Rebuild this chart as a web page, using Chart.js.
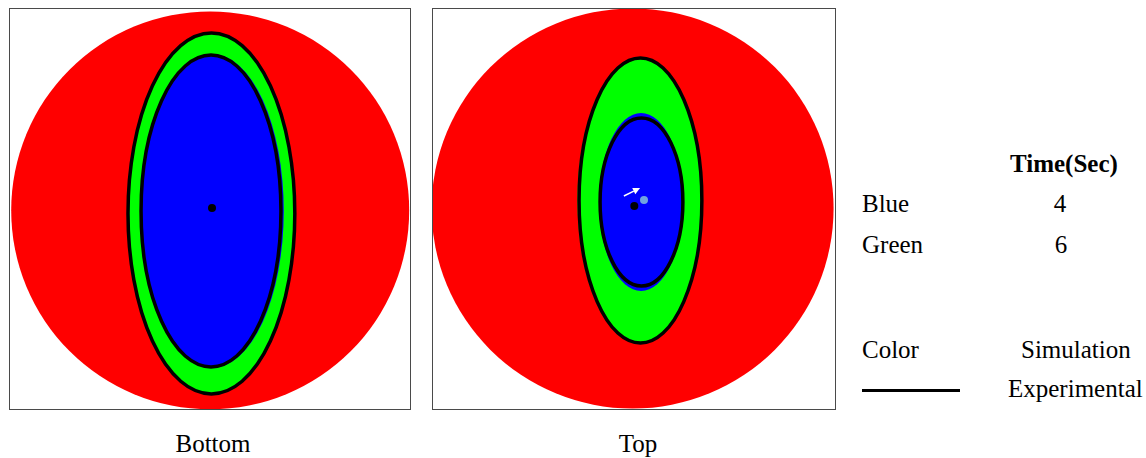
<!DOCTYPE html>
<html>
<head>
<meta charset="utf-8">
<script src="https://cdn.jsdelivr.net/npm/chart.js@4/dist/chart.umd.min.js"></script>
<style>
  html, body { margin: 0; padding: 0; background: #fff; }
  #page { position: relative; width: 1146px; height: 458px; overflow: hidden;
          font-family: "Liberation Serif", "Times New Roman", serif; color: #000; }
  canvas { position: absolute; top: 0; }
  .t { position: absolute; font-size: 25px; line-height: 25px; white-space: nowrap; }
  .c { transform: translateX(-50%); }
  .b { font-weight: bold; }
</style>
</head>
<body>
<div id="page">
  <canvas id="bottomPlate" width="420" height="420" style="left:0px"></canvas>
  <canvas id="topPlate" width="420" height="420" style="left:425px"></canvas>

  <div class="t c" id="lbl0" style="left:213px; top:431px"></div>
  <div class="t c" id="lbl1" style="left:638px; top:431px"></div>

  <div class="t b" id="timeHead" style="left:1010px; top:151px"></div>
  <div class="t" id="name0" style="left:862px; top:191px"></div>
  <div class="t c" id="time0" style="left:1060px; top:191px"></div>
  <div class="t" id="name1" style="left:862px; top:232px"></div>
  <div class="t c" id="time1" style="left:1061px; top:232px"></div>
  <div class="t" id="key0" style="left:862px; top:337px"></div>
  <div class="t" id="keyDesc0" style="left:1021px; top:337px"></div>
  <div style="position:absolute; left:862px; top:389px; width:98px; height:3px; background:#000"></div>
  <div class="t" id="keyDesc1" style="left:1008px; top:376px"></div>
</div>
<script>
// Plate coordinates: each panel spans -100..100 on both axes (y up).
const panelNames = ['Bottom', 'Top'];

// [centre x, centre y, radius x, radius y] per panel
const plate    = [[0.1, -0.7, 99, 99], [-0.7, 0.25, 99.5, 99.5]];      // whole plate (red)
const simGreen = [[0.7, -2.2, 41.5, 89.8], [2.8, 4.2, 30.8, 71]];      // simulated front, 6 s
const simBlue  = [[1.2, -1.0, 35.5, 78], [3.5, 3.5, 20.8, 44.3]];      // simulated front, 4 s
const expGreen = [[0.7, -2.2, 41.5, 89.8], [3.2, 4.2, 30.4, 70.9]];    // measured front, 6 s
const expBlue  = [[0.5, -1.0, 34.8, 77.6], [3.7, 3.5, 20.5, 41.8]];    // measured front, 4 s

const inlet = [[1.0, 0.5], [0.15, 1.5]];           // injection point
const vent = [null, [4.95, 4.5]];                  // shifted centre
const flowArrow = [null, [-5.0, 6.5, 3.0, 10.4]];  // x0, y0, x1, y1

const legendNames = ['Blue', 'Green'];
const legendTimes = [4, 6];
const legendHead = 'Time(Sec)';
const keyText = ['Color', 'Simulation', 'Experimental'];

// text
panelNames.forEach((n, i) => document.getElementById('lbl' + i).textContent = n);
document.getElementById('timeHead').textContent = legendHead;
legendNames.forEach((n, i) => {
  document.getElementById('name' + i).textContent = n;
  document.getElementById('time' + i).textContent = legendTimes[i];
});
document.getElementById('key0').textContent = keyText[0];
document.getElementById('keyDesc0').textContent = keyText[1];
document.getElementById('keyDesc1').textContent = keyText[2];

// Draws ellipse-type datasets through the chart's scales, then the frame and arrow.
const platePlugin = {
  id: 'plateShapes',
  beforeDatasetsDraw(chart) {
    const { ctx, chartArea: a, scales: { x, y } } = chart;
    ctx.save();
    ctx.beginPath();
    ctx.rect(a.left, a.top, a.width, a.height);
    ctx.clip();
    chart.data.datasets.forEach(ds => {
      if (!ds.ellipse) return;
      const [cx, cy, rx, ry] = ds.ellipse;
      const px = x.getPixelForValue(cx), py = y.getPixelForValue(cy);
      const prx = Math.abs(x.getPixelForValue(cx + rx) - px);
      const pry = Math.abs(y.getPixelForValue(cy + ry) - py);
      ctx.beginPath();
      ctx.ellipse(px, py, prx, pry, 0, 0, Math.PI * 2);
      if (ds.fillArea) { ctx.fillStyle = ds.backgroundColor; ctx.fill(); }
      if (ds.outline) { ctx.lineWidth = ds.borderWidth; ctx.strokeStyle = ds.borderColor; ctx.stroke(); }
    });
    ctx.restore();
  },
  afterDatasetsDraw(chart, args, opts) {
    const { ctx, chartArea: a, scales: { x, y } } = chart;
    ctx.save();
    if (opts.arrow) {
      const [x0, y0, x1, y1] = opts.arrow;
      const p0 = [x.getPixelForValue(x0), y.getPixelForValue(y0)];
      const p1 = [x.getPixelForValue(x1), y.getPixelForValue(y1)];
      const ang = Math.atan2(p1[1] - p0[1], p1[0] - p0[0]);
      const head = 7;
      const base = [p1[0] - head * Math.cos(ang), p1[1] - head * Math.sin(ang)];
      ctx.strokeStyle = '#fff';
      ctx.fillStyle = '#fff';
      ctx.lineWidth = 1.6;
      ctx.beginPath();
      ctx.moveTo(p0[0], p0[1]);
      ctx.lineTo(base[0], base[1]);
      ctx.stroke();
      ctx.beginPath();
      ctx.moveTo(p1[0], p1[1]);
      ctx.lineTo(base[0] + 3.5 * Math.sin(ang), base[1] - 3.5 * Math.cos(ang));
      ctx.lineTo(base[0] - 3.5 * Math.sin(ang), base[1] + 3.5 * Math.cos(ang));
      ctx.closePath();
      ctx.fill();
    }
    ctx.strokeStyle = '#4a4a4a';
    ctx.lineWidth = 1;
    ctx.strokeRect(a.left + 0.5, a.top + 0.5, a.width - 1, a.height - 1);
    ctx.restore();
  }
};

function region(label, e, color, fillArea, outline) {
  return {
    label, ellipse: e, fillArea, outline,
    data: [{ x: e[0], y: e[1] }],
    backgroundColor: color, borderColor: color,
    borderWidth: 3.5, pointRadius: 0, pointHoverRadius: 0
  };
}

function makePanel(id, i, pad) {
  const datasets = [
    region('Plate', plate[i], '#ff0000', true, false),
    region('Simulation 6 s', simGreen[i], '#00ff00', true, false),
    region('Simulation 4 s', simBlue[i], '#0000ff', true, false),
    region('Experimental 6 s', expGreen[i], '#000000', false, true),
    region('Experimental 4 s', expBlue[i], '#000000', false, true),
    { label: 'Inlet', data: [{ x: inlet[i][0], y: inlet[i][1] }],
      pointRadius: 4, backgroundColor: '#000', borderWidth: 0 }
  ];
  if (vent[i]) {
    datasets.push({ label: 'Centre', data: [{ x: vent[i][0], y: vent[i][1] }],
      pointRadius: 4, backgroundColor: '#6fa3e0', borderWidth: 0 });
  }
  new Chart(document.getElementById(id), {
    type: 'scatter',
    data: { datasets },
    options: {
      responsive: false, animation: false, devicePixelRatio: 1, events: [],
      layout: { padding: pad },
      scales: {
        x: { min: -100, max: 100, display: false },
        y: { min: -100, max: 100, display: false }
      },
      plugins: {
        legend: { display: false },
        tooltip: { enabled: false },
        plateShapes: { arrow: flowArrow[i] }
      }
    },
    plugins: [platePlugin]
  });
}

makePanel('bottomPlate', 0, { left: 9, right: 9, top: 8, bottom: 10 });
makePanel('topPlate', 1, { left: 7, right: 9, top: 8, bottom: 10 });
</script>
</body>
</html>
